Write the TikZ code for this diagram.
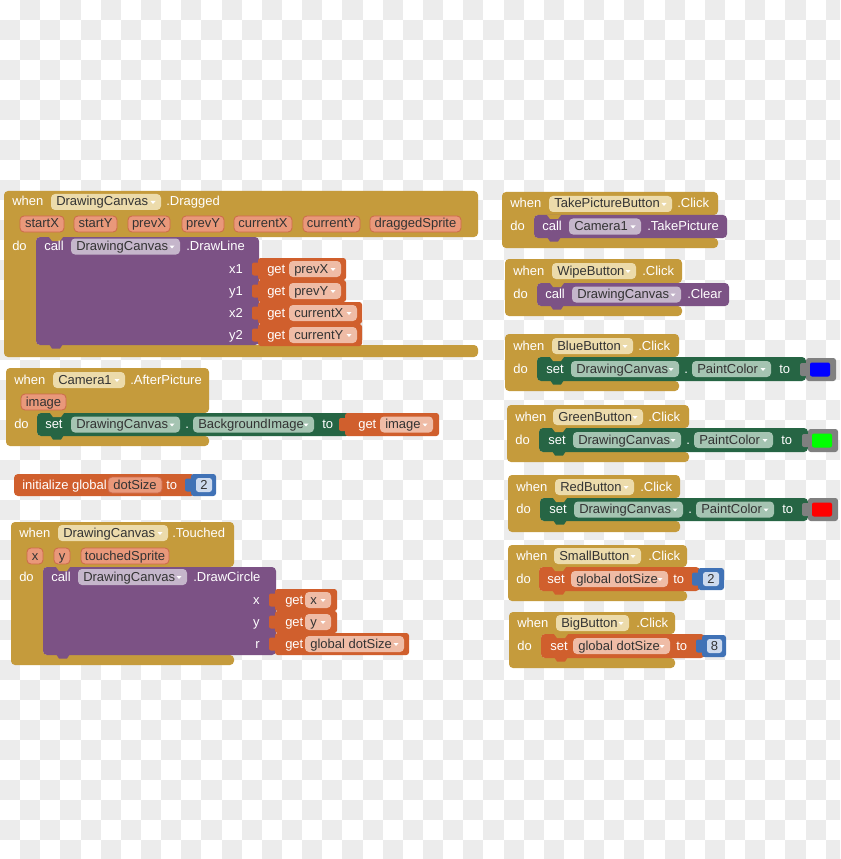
\documentclass[tikz,border=0pt]{standalone}
\usepackage{fontspec}
\setmainfont{Liberation Sans}
\definecolor{gold}{RGB}{197,155,60}
\definecolor{goldf}{RGB}{236,219,171}
\definecolor{purp}{RGB}{124,82,133}
\definecolor{purpf}{RGB}{197,182,203}
\definecolor{grn}{RGB}{38,101,68}
\definecolor{grnf}{RGB}{165,196,178}
\definecolor{org}{RGB}{208,95,45}
\definecolor{orgf}{RGB}{239,188,166}
\definecolor{pill}{RGB}{233,152,122}
\definecolor{pillb}{RGB}{205,105,75}
\definecolor{blu}{RGB}{64,114,182}
\definecolor{bluf}{RGB}{205,218,238}
\definecolor{cgrey}{RGB}{128,128,128}
\definecolor{chk}{RGB}{236,236,236}
\newcounter{nd}
\newcommand\fs{\fontsize{9.75pt}{11pt}\selectfont}
\tikzset{
  txt/.style={text=white, inner sep=0pt, font=\fs, text height=7.5pt, text depth=1.5pt},
  ftxt/.style={txt, text=black!80}
}
% event block: x0 y0 x1 yt xi yb y1
\newcommand\evtblk[7]{\fill[gold, rounded corners=3pt] (#1,#2) -- (#3,#2) -- (#3,#4) -- (#5,#4) -- (#5,#6) -- (#3,#6) -- (#3,#7) -- (#1,#7) -- cycle;}
% statement block: x1 x2 ytop ybot color
\newcommand\stmt[5]{\fill[#5, rounded corners=3pt] (#1,#3) rectangle (#2,#4);
  \fill[gold] ({#1+13},#3) -- ({#1+27},#3) -- ({#1+24},{#3+4}) -- ({#1+16},{#3+4}) -- cycle;
  \fill[#5] ({#1+13},{#4-1}) -- ({#1+27},{#4-1}) -- ({#1+24},{#4+3.5}) -- ({#1+16},{#4+3.5}) -- cycle;}
% value block: x1 x2 ytop ybot color
\newcommand\valblk[5]{\fill[#5, rounded corners=2pt] (#1,#3) rectangle (#2,#4);
  \fill[#5, rounded corners=1.5pt] ({#1-6},{(#3+#4)/2-6.5}) rectangle ({#1+2},{(#3+#4)/2+6.5});}
\newcommand\tx[3]{\stepcounter{nd}\node[txt,anchor=west] (n\arabic{nd}) at (#1,#2) {#3};}
\newcommand\txe[3]{\stepcounter{nd}\node[txt,anchor=east] (n\arabic{nd}) at (#1,#2) {#3};}
% field: x1 x2 yc color text
\newcommand\fd[5]{\fill[#4, rounded corners=3pt] (#1,{#3-8}) rectangle (#2,{#3+8});
  \stepcounter{nd}\node[ftxt,anchor=west] (n\arabic{nd}) at ({#1+5},#3) {#5};
  \fill[white] ({#2-10.5},{#3-1}) -- ({#2-5.5},{#3-1}) -- ({#2-8},{#3+2}) -- cycle;}
% pill: x1 x2 yc text
\newcommand\pl[4]{\filldraw[fill=pill, draw=pillb, line width=0.6pt, rounded corners=3pt] (#1,{#3-8}) rectangle (#2,{#3+8});
  \stepcounter{nd}\node[ftxt] (n\arabic{nd}) at ({(#1+#2)/2},#3) {#4};}
% number: x1 x2 ytop ybot fx1 fx2 text
\newcommand\num[7]{\valblk{#1}{#2}{#3}{#4}{blu}
  \fill[bluf, rounded corners=2pt] (#5,{#3+4}) rectangle (#6,{#4-4});
  \stepcounter{nd}\node[ftxt] (n\arabic{nd}) at ({(#5+#6)/2},{(#3+#4)/2}) {#7};}
% colour: x1 x2 ytop ybot ix1 ix2 colour
\newcommand\colblk[7]{\valblk{#1}{#2}{#3}{#4}{cgrey}
  \fill[#7, rounded corners=1.5pt] (#5,{#3+4.5}) rectangle (#6,{#4-4.5});}
\begin{document}
\begin{tikzpicture}[x=0.75pt,y=-0.75pt]
\useasboundingbox (0,0) rectangle (840,859);
\begin{scope}
\clip (0,0) rectangle (840,859);
\fill[white] (0,0) rectangle (840,859);
\foreach \j in {0,...,42}{\foreach \i in {0,...,41}{\pgfmathtruncatemacro\pq{mod(\i+\j,2)}\ifnum\pq=1 \fill[chk] ({\i*20.14},{\j*20}) rectangle ++(20.14,20);\fi}}
\end{scope}

% ---- DrawingCanvas.Dragged
\evtblk{4}{191}{478}{237}{36}{345}{357}
\tx{12}{202}{when}\fd{51}{161}{202}{goldf}{DrawingCanvas}\tx{166}{202}{.Dragged}
\pl{20}{64}{224}{startX}\pl{74}{117}{224}{startY}\pl{128}{170}{224}{prevX}\pl{182}{224}{224}{prevY}
\pl{234}{292}{224}{currentX}\pl{303}{360}{224}{currentY}\pl{370}{461}{224}{draggedSprite}
\tx{12}{246}{do}
\stmt{36}{259}{237}{345}{purp}
\tx{44}{246.5}{call}\fd{71}{180}{246.5}{purpf}{DrawingCanvas}\tx{186}{246.5}{.DrawLine}
\txe{243}{269}{x1}\txe{243}{291}{y1}\txe{243}{313}{x2}\txe{243}{335}{y2}
\valblk{258}{346}{258}{280}{org}\tx{267}{269}{get}\fd{289}{341}{269}{orgf}{prevX}
\valblk{258}{346}{280}{302}{org}\tx{267}{291}{get}\fd{289}{341}{291}{orgf}{prevY}
\valblk{258}{362}{302}{324}{org}\tx{267}{313}{get}\fd{289}{357}{313}{orgf}{currentX}
\valblk{258}{362}{324}{346}{org}\tx{267}{335}{get}\fd{289}{357}{335}{orgf}{currentY}

% ---- Camera1.AfterPicture
\evtblk{6}{368}{209}{413}{37}{436}{446}
\tx{14}{380}{when}\fd{53}{125}{380}{goldf}{Camera1}\tx{130}{380}{.AfterPicture}
\pl{21}{66}{402}{image}
\tx{14}{424}{do}
\stmt{37}{350}{413}{436}{grn}
\tx{45}{424.5}{set}\fd{71}{180}{424.5}{grnf}{DrawingCanvas}\tx{185}{424.5}{.}
\fd{193}{314}{424.5}{grnf}{BackgroundImage}\tx{322}{424.5}{to}
\valblk{345}{439}{413}{436}{org}\tx{358}{424.5}{get}\fd{380}{433}{424.5}{orgf}{image}

% ---- initialize global
\fill[org, rounded corners=3pt] (14,474) rectangle (195,496);
\tx{22}{485}{initialize global}\pl{108}{162}{485}{dotSize}\tx{166}{485}{to}
\num{191}{216}{474}{496}{196}{212}{2}

% ---- DrawingCanvas.Touched
\evtblk{11}{522}{234}{567}{43}{655}{665}
\tx{19}{533}{when}\fd{58}{168}{533}{goldf}{DrawingCanvas}\tx{172}{533}{.Touched}
\pl{27}{43}{556}{x}\pl{54}{70}{556}{y}\pl{81}{169}{556}{touchedSprite}
\tx{19}{577}{do}
\stmt{43}{276}{567}{655}{purp}
\tx{51}{577}{call}\fd{78}{187}{577}{purpf}{DrawingCanvas}\tx{193}{577}{.DrawCircle}
\txe{260}{600}{x}\txe{260}{622}{y}\txe{260}{644}{r}
\valblk{275}{337}{589}{611}{org}\tx{285}{600}{get}\fd{305}{331}{600}{orgf}{x}
\valblk{275}{337}{611}{633}{org}\tx{285}{622}{get}\fd{305}{331}{622}{orgf}{y}
\valblk{275}{409}{633}{655}{org}\tx{285}{644}{get}\fd{305}{404}{644}{orgf}{global dotSize}

% ---- TakePictureButton.Click
\evtblk{502}{192}{718}{215}{534}{238}{248}
\tx{510}{204}{when}\fd{549}{672}{204}{goldf}{TakePictureButton}\tx{677}{204}{.Click}
\tx{510}{226.5}{do}
\stmt{534}{727}{215}{238}{purp}
\tx{542}{226.5}{call}\fd{569}{641}{226.5}{purpf}{Camera1}\tx{647}{226.5}{.TakePicture}

% ---- WipeButton.Click
\evtblk{505}{259}{682}{283}{537}{306}{316}
\tx{513}{271}{when}\fd{552}{636}{271}{goldf}{WipeButton}\tx{642}{271}{.Click}
\tx{513}{294.5}{do}
\stmt{537}{729}{283}{306}{purp}
\tx{545}{294.5}{call}\fd{572}{681}{294.5}{purpf}{DrawingCanvas}\tx{687}{294.5}{.Clear}

% ---- BlueButton.Click
\evtblk{505}{334}{679}{357}{537}{381}{391}
\tx{513}{346}{when}\fd{552}{633}{346}{goldf}{BlueButton}\tx{638}{346}{.Click}
\tx{513}{369}{do}
\stmt{537}{806}{357}{381}{grn}
\tx{546}{369}{set}\fd{571}{679}{369}{grnf}{DrawingCanvas}\tx{684}{369}{.}
\fd{692}{771}{369}{grnf}{PaintColor}\tx{779}{369}{to}
\colblk{806}{836}{358}{381}{810}{830}{blue}

% ---- GreenButton.Click
\evtblk{507}{405}{689}{428}{539}{452}{462}
\tx{515}{417}{when}\fd{553}{643}{417}{goldf}{GreenButton}\tx{648}{417}{.Click}
\tx{515}{440}{do}
\stmt{539}{808}{428}{452}{grn}
\tx{548}{440}{set}\fd{573}{681}{440}{grnf}{DrawingCanvas}\tx{686}{440}{.}
\fd{694}{773}{440}{grnf}{PaintColor}\tx{781}{440}{to}
\colblk{808}{838}{429}{452}{812}{832}{green}

% ---- RedButton.Click
\evtblk{508}{475}{680}{498}{540}{521}{532}
\tx{516}{487}{when}\fd{555}{634}{487}{goldf}{RedButton}\tx{640}{487}{.Click}
\tx{516}{509.5}{do}
\stmt{540}{808}{498}{521}{grn}
\tx{549}{509.5}{set}\fd{574}{683}{509.5}{grnf}{DrawingCanvas}\tx{688}{509.5}{.}
\fd{696}{774}{509.5}{grnf}{PaintColor}\tx{782}{509.5}{to}
\colblk{808}{838}{498}{521}{812}{832}{red}

% ---- SmallButton.Click
\evtblk{508}{545}{687}{567}{539}{591}{601}
\tx{516}{556}{when}\fd{554}{641}{556}{goldf}{SmallButton}\tx{648}{556}{.Click}
\tx{516}{579}{do}
\stmt{539}{700}{567}{591}{org}
\tx{547}{579}{set}\fd{571}{668}{579}{orgf}{global dotSize}\tx{673}{579}{to}
\num{698}{724}{568}{590}{703}{719}{2}

% ---- BigButton.Click
\evtblk{509}{612}{675}{634}{541}{658}{668}
\tx{517}{623}{when}\fd{556}{629}{623}{goldf}{BigButton}\tx{636}{623}{.Click}
\tx{517}{646}{do}
\stmt{541}{705}{634}{658}{org}
\tx{550}{646}{set}\fd{573}{670}{646}{orgf}{global dotSize}\tx{676}{646}{to}
\num{702}{726}{635}{657}{707}{722}{8}
\end{tikzpicture}
\end{document}
